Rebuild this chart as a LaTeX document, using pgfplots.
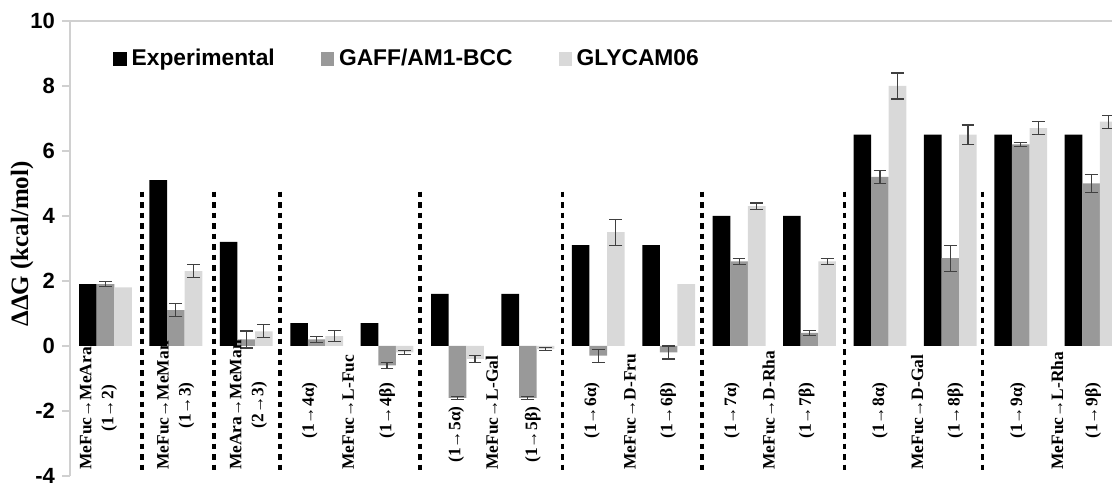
\documentclass[border=0pt]{standalone}
\usepackage{pgfplots}
\pgfplotsset{compat=1.18}
\usepackage{fontspec}
\setmainfont{Liberation Sans}
\newfontfamily\serifb{Liberation Serif}
\definecolor{gaff}{HTML}{999999}
\definecolor{glycam}{HTML}{D9D9D9}
\definecolor{errc}{HTML}{404040}
\definecolor{axc}{HTML}{D0D0D0}
\begin{document}
\begin{tikzpicture}
\begin{axis}[
  at={(0pt,0pt)}, anchor=south west,
  scale only axis, width=521pt, height=227.5pt,
  xmin=-0.504, xmax=14.297, ymin=-4, ymax=10,
  ybar, bar width=0.25,
  clip mode=individual,
  axis x line=none,
  axis y line*=left,
  y axis line style={axc, line width=0.8pt, -},
  ytick={-4,-2,0,2,4,6,8,10},
  yticklabels={-4,-2,0,2,4,6,8,10},
  yticklabel style={font=\bfseries\fontsize{11}{13}\selectfont},
  tick align=outside, major tick length=4pt,
  tick style={axc, line width=0.6pt},
  xtick=\empty,
  ylabel={\serifb\bfseries\fontsize{12.5}{14}\selectfont ΔΔG (kcal/mol)},
  ylabel style={at={(rel axis cs:0,0.51)}, anchor=center, yshift=24pt},
  legend columns=3,
  legend style={draw=none, fill=none, at={(rel axis cs:0.0413,0.9165)}, anchor=west,
    font=\bfseries\fontsize{11.4}{13}\selectfont, inner sep=0pt,
    nodes={inner sep=0pt},
    /tikz/every odd column/.append style={column sep=2.5pt},
    /tikz/every even column/.append style={column sep=23pt}},
  legend image code/.code={\fill[#1] (0pt,-3.3pt) rectangle (6.6pt,3.3pt);},
  error bars/error bar style={errc, line width=0.6pt},
  error bars/error mark options={rotate=90, errc, mark size=3.2pt, line width=0.6pt},
]
\addplot[bar shift=-0.25, fill=black, draw=none]
 coordinates {(0,1.9) (1,5.1) (2,3.2) (3,0.7) (4,0.7) (5,1.6) (6,1.6) (7,3.1) (8,3.1) (9,4.0) (10,4.0) (11,6.5) (12,6.5) (13,6.5) (14,6.5)};
\addlegendentry{Experimental}
\addplot[bar shift=0, fill=gaff, draw=none,
  error bars/.cd, y dir=both, y explicit]
 coordinates {(0,1.9) +- (0,0.08) (1,1.1) +- (0,0.2) (2,0.2) +- (0,0.26) (3,0.2) +- (0,0.1) (4,-0.6) +- (0,0.1)
 (5,-1.6) +- (0,0.05) (6,-1.6) +- (0,0.05) (7,-0.3) +- (0,0.2) (8,-0.2) +- (0,0.2) (9,2.6) +- (0,0.1)
 (10,0.4) +- (0,0.07) (11,5.2) +- (0,0.2) (12,2.7) +- (0,0.4) (13,6.2) +- (0,0.05) (14,5.0) +- (0,0.28)};
\addlegendentry{GAFF/AM1-BCC}
\addplot[bar shift=0.25, fill=glycam, draw=none,
  error bars/.cd, y dir=both, y explicit]
 coordinates {(1,2.3) +- (0,0.2) (2,0.45) +- (0,0.2) (3,0.3) +- (0,0.17) (4,-0.2) +- (0,0.05)
 (5,-0.4) +- (0,0.1) (6,-0.1) +- (0,0.05) (7,3.5) +- (0,0.4) (9,4.3) +- (0,0.1)
 (10,2.6) +- (0,0.1) (11,8.0) +- (0,0.4) (12,6.5) +- (0,0.3) (13,6.7) +- (0,0.2) (14,6.9) +- (0,0.2)};
\addlegendentry{GLYCAM06}
\addplot[forget plot, bar shift=0.25, fill=glycam, draw=none]
 coordinates {(0,1.8) (8,1.9)};
% separators
\foreach \s in {0.52,1.54,2.48,4.47,6.49,8.47,10.5,12.46}{
  \edef\tmp{\noexpand\draw[black, line width=1.75pt, dash pattern=on 2.75pt off 2.5pt] (axis cs:\s,4.75) -- (axis cs:\s,-3.9);}
  \tmp
}
\draw[axc, line width=0.8pt] (rel axis cs:0,1) -- (rel axis cs:1,1);
% category labels
\begin{scope}[every node/.style={rotate=90, font=\serifb\bfseries\fontsize{8.7}{11}\selectfont, inner sep=0pt}]
\node[anchor=west, align=center] at (axis cs:-0.1,-3.82) {MeFuc→MeAra\\(1→2)};
\node[anchor=west, align=center] at (axis cs:1,-3.82) {MeFuc→MeMan\\(1→3)};
\node[anchor=west, align=center] at (axis cs:2.03,-3.82) {MeAra→MeMan\\(2→3)};
\node[anchor=west] at (axis cs:3.45,-3.82) {MeFuc→L-Fuc};
\node[anchor=west] at (axis cs:5.49,-3.82) {MeFuc→L-Gal};
\node[anchor=west] at (axis cs:7.45,-3.82) {MeFuc→D-Fru};
\node[anchor=west] at (axis cs:9.42,-3.82) {MeFuc→D-Rha};
\node[anchor=west] at (axis cs:11.53,-3.82) {MeFuc→D-Gal};
\node[anchor=west] at (axis cs:13.52,-3.82) {MeFuc→L-Rha};
\node[anchor=west] at (axis cs:2.9,-2.86) {(1→4α)};
\node[anchor=west] at (axis cs:4.0,-2.86) {(1→4β)};
\node[anchor=west] at (axis cs:4.98,-3.6) {(1→5α)};
\node[anchor=west] at (axis cs:6.07,-3.6) {(1→5β)};
\node[anchor=west] at (axis cs:6.91,-2.86) {(1→6α)};
\node[anchor=west] at (axis cs:7.99,-2.86) {(1→6β)};
\node[anchor=west] at (axis cs:8.9,-2.86) {(1→7α)};
\node[anchor=west] at (axis cs:9.96,-2.86) {(1→7β)};
\node[anchor=west] at (axis cs:11.0,-2.86) {(1→8α)};
\node[anchor=west] at (axis cs:12.07,-2.86) {(1→8β)};
\node[anchor=west] at (axis cs:12.96,-2.86) {(1→9α)};
\node[anchor=west] at (axis cs:14.03,-2.86) {(1→9β)};
\end{scope}
\end{axis}
\pgfresetboundingbox
\path (-35pt,-4.5pt) rectangle (521pt,238pt);
\end{tikzpicture}
\end{document}
